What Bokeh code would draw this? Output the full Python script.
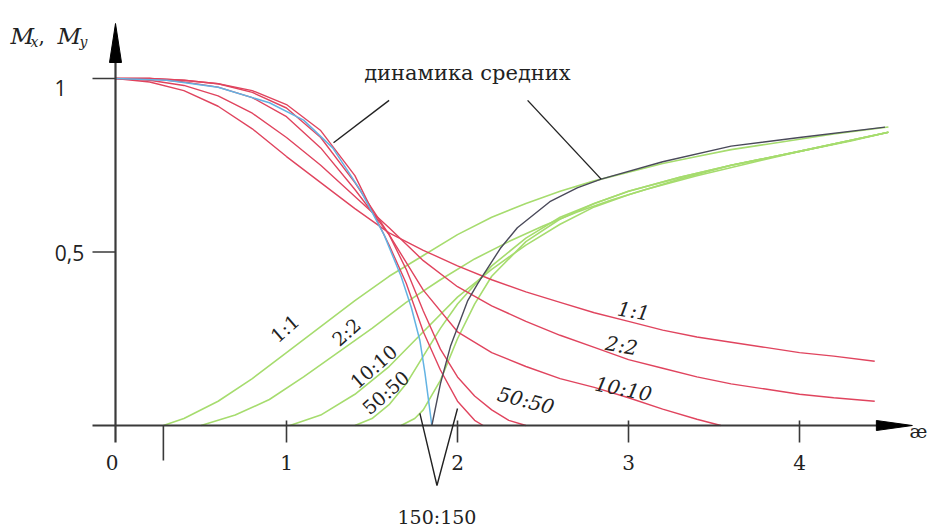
from bokeh.plotting import figure
from bokeh.models import Range1d
from bokeh.embed import file_html
from bokeh.resources import INLINE
from bokeh.core.properties import value

# ---- data ----
red_1_x = [0, 0.2, 0.4, 0.6, 0.8, 1.0, 1.2, 1.4, 1.6, 1.8, 2.0, 2.2, 2.4, 2.6, 2.8, 3.0, 3.2, 3.4, 3.6, 3.8, 4.0, 4.2, 4.44]
red_1_y = [1.0, 0.99, 0.965, 0.92, 0.855, 0.775, 0.70, 0.625, 0.555, 0.505, 0.46, 0.42, 0.385, 0.355, 0.325, 0.30, 0.275, 0.255, 0.24, 0.225, 0.21, 0.20, 0.185]
red_2_x = [0, 0.2, 0.4, 0.6, 0.8, 1.0, 1.2, 1.4, 1.6, 1.8, 2.0, 2.2, 2.4, 2.6, 2.8, 3.0, 3.2, 3.4, 3.6, 3.8, 4.0, 4.2, 4.44]
red_2_y = [1.0, 0.995, 0.98, 0.95, 0.90, 0.83, 0.75, 0.66, 0.57, 0.475, 0.40, 0.345, 0.30, 0.26, 0.225, 0.19, 0.165, 0.14, 0.12, 0.105, 0.09, 0.08, 0.07]
red_10_x = [0, 0.2, 0.4, 0.6, 0.8, 1.0, 1.2, 1.4, 1.6, 1.8, 2.0, 2.2, 2.4, 2.6, 2.8, 3.0, 3.2, 3.4, 3.54]
red_10_y = [1.0, 1.0, 0.99, 0.975, 0.945, 0.89, 0.80, 0.68, 0.55, 0.39, 0.27, 0.21, 0.17, 0.135, 0.11, 0.08, 0.047, 0.018, 0.0]
red_50_x = [0, 0.2, 0.4, 0.6, 0.8, 1.0, 1.2, 1.4, 1.6, 1.7, 1.8, 1.9, 2.0, 2.1, 2.2, 2.3, 2.4]
red_50_y = [1.0, 1.0, 0.995, 0.985, 0.96, 0.915, 0.83, 0.70, 0.55, 0.45, 0.33, 0.22, 0.14, 0.085, 0.045, 0.015, 0.0]
red_150_x = [0, 0.2, 0.4, 0.6, 0.8, 1.0, 1.2, 1.4, 1.6, 1.7, 1.8, 1.9, 2.0, 2.1, 2.15]
red_150_y = [1.0, 1.0, 0.995, 0.985, 0.965, 0.925, 0.85, 0.72, 0.52, 0.41, 0.27, 0.16, 0.07, 0.015, 0.0]

green_1_x = [0.28, 0.4, 0.6, 0.8, 1.0, 1.2, 1.4, 1.6, 1.8, 2.0, 2.2, 2.4, 2.6, 2.8, 3.0, 3.2, 3.4, 3.6, 3.8, 4.0, 4.2, 4.52]
green_1_y = [0.0, 0.02, 0.07, 0.135, 0.21, 0.285, 0.36, 0.43, 0.49, 0.55, 0.60, 0.64, 0.675, 0.705, 0.73, 0.755, 0.775, 0.795, 0.81, 0.825, 0.84, 0.86]
green_2_x = [0.5, 0.7, 0.9, 1.1, 1.3, 1.5, 1.7, 1.9, 2.1, 2.3, 2.5, 2.7, 2.9, 3.1, 3.4, 3.7, 4.0, 4.3, 4.52]
green_2_y = [0.0, 0.03, 0.075, 0.14, 0.21, 0.28, 0.355, 0.42, 0.48, 0.53, 0.575, 0.615, 0.65, 0.68, 0.72, 0.755, 0.79, 0.82, 0.845]
green_10_x = [1.02, 1.2, 1.4, 1.6, 1.8, 2.0, 2.2, 2.4, 2.6, 2.8, 3.0, 3.3, 3.6, 4.0, 4.52]
green_10_y = [0.0, 0.03, 0.09, 0.17, 0.27, 0.37, 0.45, 0.52, 0.58, 0.63, 0.665, 0.71, 0.75, 0.79, 0.845]
green_50_x = [1.4, 1.5, 1.6, 1.7, 1.8, 1.9, 2.0, 2.2, 2.4, 2.6, 2.8, 3.0, 3.3, 3.6, 4.0, 4.52]
green_50_y = [0.0, 0.02, 0.06, 0.12, 0.20, 0.28, 0.35, 0.46, 0.54, 0.60, 0.64, 0.675, 0.715, 0.75, 0.79, 0.845]
green_150_x = [1.67, 1.75, 1.8, 1.9, 2.0, 2.1, 2.2, 2.4, 2.6, 2.8, 3.0, 3.3, 3.6, 4.0, 4.52]
green_150_y = [0.0, 0.02, 0.045, 0.13, 0.25, 0.35, 0.43, 0.53, 0.595, 0.64, 0.675, 0.715, 0.75, 0.79, 0.845]

mean_down_x = [0, 0.3, 0.6, 0.9, 1.1, 1.27, 1.43, 1.57, 1.67, 1.73, 1.78, 1.81, 1.85]
mean_down_y = [1.0, 0.995, 0.975, 0.93, 0.88, 0.80, 0.68, 0.55, 0.43, 0.34, 0.245, 0.15, 0.0]
mean_up_x = [1.85, 1.9, 1.96, 2.06, 2.12, 2.25, 2.35, 2.54, 2.7, 2.84, 3.2, 3.6, 4.0, 4.5]
mean_up_y = [0.0, 0.12, 0.23, 0.36, 0.41, 0.51, 0.57, 0.645, 0.685, 0.71, 0.76, 0.805, 0.83, 0.86]

x_ticks = [1, 2, 3, 4]
x_tick_labels = ["1", "2", "3", "4"]
y_ticks = [0.5, 1.0]
y_tick_labels = ["0,5", "1"]
extra_tick = 0.28

red_labels = ["1:1", "2:2", "10:10", "50:50"]
red_label_x = [3.03, 2.96, 2.97, 2.40]
red_label_y = [0.33, 0.23, 0.105, 0.072]
red_label_angle = [-0.17, -0.17, -0.2, -0.25]
green_labels = ["1:1", "2:2", "10:10", "50:50"]
green_label_x = [0.99, 1.35, 1.51, 1.58]
green_label_y = [0.28, 0.27, 0.17, 0.095]

# ---- figure ----
W, H = 928, 529
x0, y0 = 115, 425
sx, sy = 171.0, 347.0
p = figure(width=W, height=H, output_backend="svg", toolbar_location=None,
           x_range=Range1d(-x0 / sx, (W - x0) / sx),
           y_range=Range1d((y0 - H) / sy, y0 / sy),
           min_border=0)
p.axis.visible = False
p.grid.visible = False
p.outline_line_color = None
p.background_fill_color = "white"

RED = "#e0445e"
GREEN = "#a6dc6e"
BLUE = "#63b3e3"
DARK = "#4a4a5a"
AX = "#3a3a3a"
serif = value("DejaVu Serif")

for xs, ys in [(green_1_x, green_1_y), (green_2_x, green_2_y), (green_10_x, green_10_y),
               (green_50_x, green_50_y), (green_150_x, green_150_y)]:
    p.line(xs, ys, line_color=GREEN, line_width=1.6)
for xs, ys in [(red_1_x, red_1_y), (red_2_x, red_2_y), (red_10_x, red_10_y),
               (red_50_x, red_50_y), (red_150_x, red_150_y)]:
    p.line(xs, ys, line_color=RED, line_width=1.4)
p.line(mean_down_x, mean_down_y, line_color=BLUE, line_width=1.5)
p.line(mean_up_x, mean_up_y, line_color=DARK, line_width=1.4)

dx = 1 / sx
dy = 1 / sy
p.segment(x0=[-23 * dx], y0=[0], x1=[4.62], y1=[0], line_color=AX, line_width=2.2)
p.segment(x0=[0], y0=[-17 * dy], x1=[0], y1=[1.1], line_color=AX, line_width=2.2)
p.patch([0, -6 * dx, 6 * dx], [402 * dy, 363 * dy, 363 * dy], color="black")
p.patch([4.66, 4.66 - 36 * dx, 4.66 - 36 * dx], [0, 5 * dy, -5 * dy], color="black")
p.segment(x0=x_ticks, y0=[-17 * dy] * 4, x1=x_ticks, y1=[5 * dy] * 4, line_color=AX, line_width=1.6)
p.segment(x0=[-23 * dx] * 2, y0=y_ticks, x1=[0, 0], y1=y_ticks, line_color=AX, line_width=1.6)
p.segment(x0=[extra_tick], y0=[0], x1=[extra_tick], y1=[-35 * dy], line_color=AX, line_width=1.6)

p.text(x=[-0.02] + x_ticks, y=[-37 * dy] * 5, text=["0"] + x_tick_labels, text_font=serif,
       text_font_size=value("20px"), text_align="center", text_baseline="middle", text_color="#222")
p.text(x=[-55 * dx, -46 * dx], y=[1.0, 0.5], text=["1", "0,5"], text_font=value("Open Sans"),
       text_font_size=value("21px"), text_align="center", text_baseline="middle", text_color="#222",
       y_offset=[9, 1])

p.text(x=[-105 * dx, -58 * dx], y=[390 * dy, 390 * dy], text=["M", "M"], text_font=serif,
       text_font_style="italic", text_font_size=value("23px"), text_baseline="alphabetic", text_color="#222")
p.text(x=[-85 * dx, -36 * dx], y=[384 * dy, 384 * dy], text=["x", "y"], text_font=serif,
       text_font_style="italic", text_font_size=value("14px"), text_baseline="alphabetic", text_color="#222")
p.text(x=[-77 * dx], y=[390 * dy], text=[","], text_font=serif,
       text_font_size=value("20px"), text_baseline="alphabetic", text_color="#222")
p.text(x=[803 * dx], y=[-5 * dy], text=["æ"], text_font=serif,
       text_font_size=value("19px"), text_align="center", text_baseline="middle", text_color="#222")

for t, xx, yy, a in zip(red_labels, red_label_x, red_label_y, red_label_angle):
    p.text(x=[xx], y=[yy], text=[t], angle=a, text_font=serif, text_font_style="italic",
           text_font_size=value("20px"), text_align="center", text_baseline="middle", text_color="#222")
for t, xx, yy in zip(green_labels, green_label_x, green_label_y):
    p.text(x=[xx], y=[yy], text=[t], angle=0.72, text_font=serif,
           text_font_size=value("19px"), text_align="center", text_baseline="middle", text_color="#222")

p.text(x=[2.058], y=[1.017], text=["динамика средних"], text_font=serif,
       text_font_size=value("21px"), text_align="center", text_baseline="middle", text_color="#222")
p.segment(x0=[1.60, 2.41], y0=[0.937, 0.937], x1=[1.275, 2.84], y1=[0.815, 0.71],
          line_color="#222", line_width=1.4)
p.line([1.78, 1.88, 2.0], [0.035, -0.173, 0.049], line_color="#222", line_width=1.4)
p.text(x=[1.88], y=[-0.265], text=["150:150"], text_font=serif,
       text_font_size=value("19px"), text_align="center", text_baseline="middle", text_color="#222")

open("out.html", "w").write(file_html(p, INLINE))
